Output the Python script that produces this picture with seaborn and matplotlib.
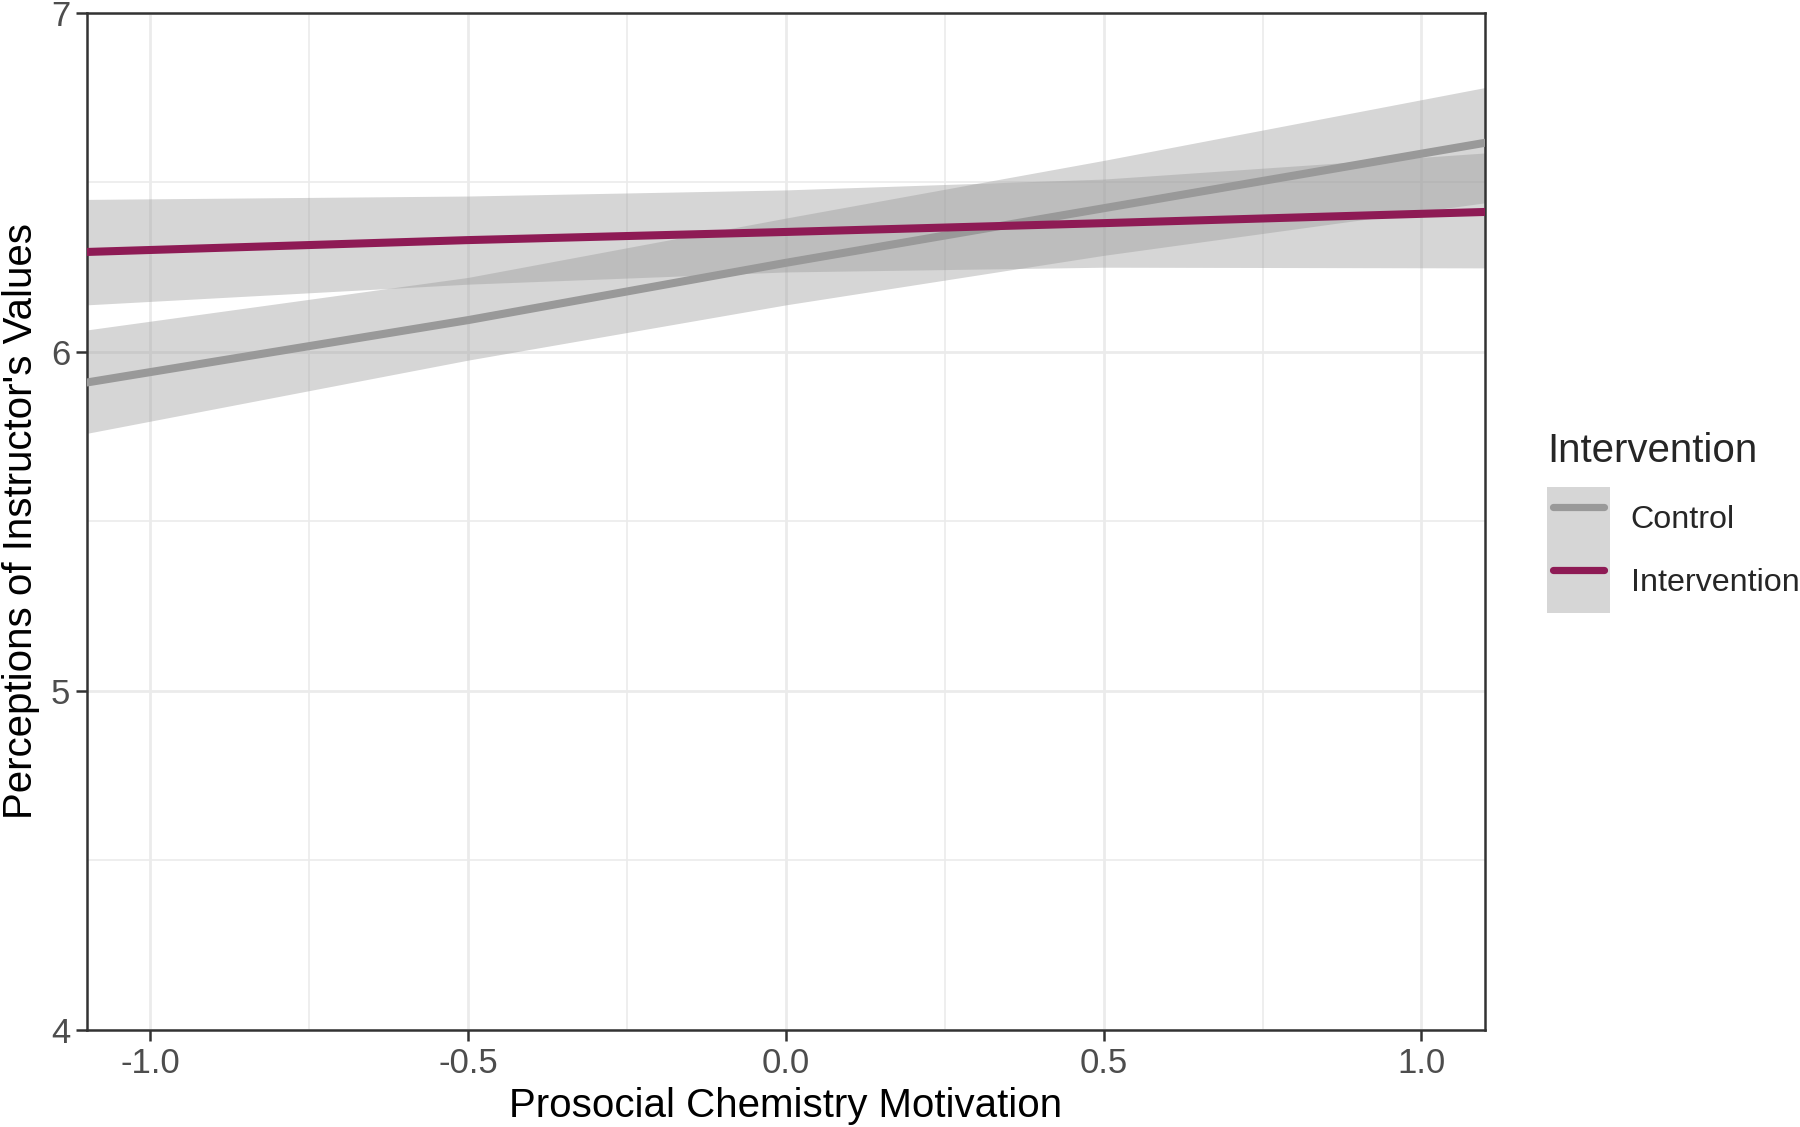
import numpy as np
import pandas as pd
import seaborn as sns
import matplotlib.pyplot as plt
from matplotlib.lines import Line2D
from matplotlib.patches import Patch
from matplotlib.legend_handler import HandlerLine2D

# values
motivation = [-1.1, -0.5, 0.0, 0.5, 1.1]

control_fit = [5.91, 6.094, 6.263, 6.424, 6.617]
control_low = [5.76, 5.976, 6.139, 6.285, 6.44]
control_high = [6.065, 6.22, 6.395, 6.565, 6.78]

intervention_fit = [6.295, 6.33, 6.354, 6.38, 6.413]
intervention_low = [6.139, 6.20, 6.236, 6.25, 6.248]
intervention_high = [6.45, 6.46, 6.478, 6.51, 6.587]

groups = ["Control", "Intervention"]
colors = {"Control": "#999999", "Intervention": "#8E1B55"}

x_ticks = [-1.0, -0.5, 0.0, 0.5, 1.0]
x_tick_labels = ["-1.0", "-0.5", "0.0", "0.5", "1.0"]
y_ticks = [4, 5, 6, 7]
y_tick_labels = ["4", "5", "6", "7"]

df = pd.DataFrame({
    "motivation": motivation * 2,
    "fit": control_fit + intervention_fit,
    "low": control_low + intervention_low,
    "high": control_high + intervention_high,
    "group": ["Control"] * len(motivation) + ["Intervention"] * len(motivation),
})


class InsetLine(HandlerLine2D):
    # legend key line a bit shorter than the grey key box, like ggplot
    def create_artists(self, legend, orig_handle, xdescent, ydescent, width, height, fontsize, trans):
        pad = 0.09 * width
        return super().create_artists(legend, orig_handle, xdescent - pad, ydescent,
                                      width - 2 * pad, height, fontsize, trans)


sns.set_style("white")
plt.rcParams["font.family"] = ["Liberation Sans", "DejaVu Sans"]

fig = plt.figure(figsize=(9, 5.635), dpi=200)
ax = fig.add_axes([0.0483, 0.0861, 0.825 - 0.0483, 0.9885 - 0.0861])

# confidence bands (ggplot-style grey60 at alpha 0.4)
for g in groups:
    sub = df[df["group"] == g]
    ax.fill_between(sub["motivation"], sub["low"], sub["high"],
                    color="#999999", alpha=0.4, linewidth=0, zorder=2)

sns.lineplot(data=df, x="motivation", y="fit", hue="group", palette=colors,
             linewidth=2.9, legend=False, ax=ax, zorder=3)

ax.set_xlim(-1.1, 1.1)
ax.set_ylim(4, 7)
ax.set_xticks(x_ticks)
ax.set_xticklabels(x_tick_labels)
ax.set_yticks(y_ticks)
ax.set_yticklabels(y_tick_labels)
ax.set_xticks([-0.75, -0.25, 0.25, 0.75], minor=True)
ax.set_yticks([4.5, 5.5, 6.5], minor=True)

ax.grid(which="major", color="#EBEBEB", linewidth=1.0, zorder=0)
ax.grid(which="minor", color="#EBEBEB", linewidth=0.6, zorder=0)
ax.set_axisbelow(True)

ax.tick_params(axis="both", which="major", length=4, width=0.9, color="#333333",
               labelsize=12.5, labelcolor="#4D4D4D", pad=2, left=True, bottom=True)
ax.tick_params(axis="both", which="minor", length=0)

for s in ax.spines.values():
    s.set_color("#333333")
    s.set_linewidth(0.9)

ax.set_xlabel("Prosocial Chemistry Motivation", fontsize=14.5, color="black", labelpad=2.5)
ax.set_ylabel("Perceptions of Instructor's Values", fontsize=14.5, color="black", labelpad=4)

handles = [(Patch(facecolor="#D6D6D6", edgecolor="none"),
            Line2D([], [], color=colors[g], linewidth=2.6)) for g in groups]
leg = fig.legend(handles, groups, title="Intervention", loc="upper left",
                 bbox_to_anchor=(1547 / 1800, 1 - 432 / 1127), frameon=False,
                 fontsize=11.6, title_fontsize=14.5, alignment="left",
                 handlelength=1.95, handleheight=2.63, labelspacing=0,
                 handletextpad=0.65, borderpad=0, borderaxespad=0,
                 handler_map={Line2D: InsetLine()})
leg._legend_box.sep = 6  # gap between title and keys

fig.savefig("out.png", dpi=200)
